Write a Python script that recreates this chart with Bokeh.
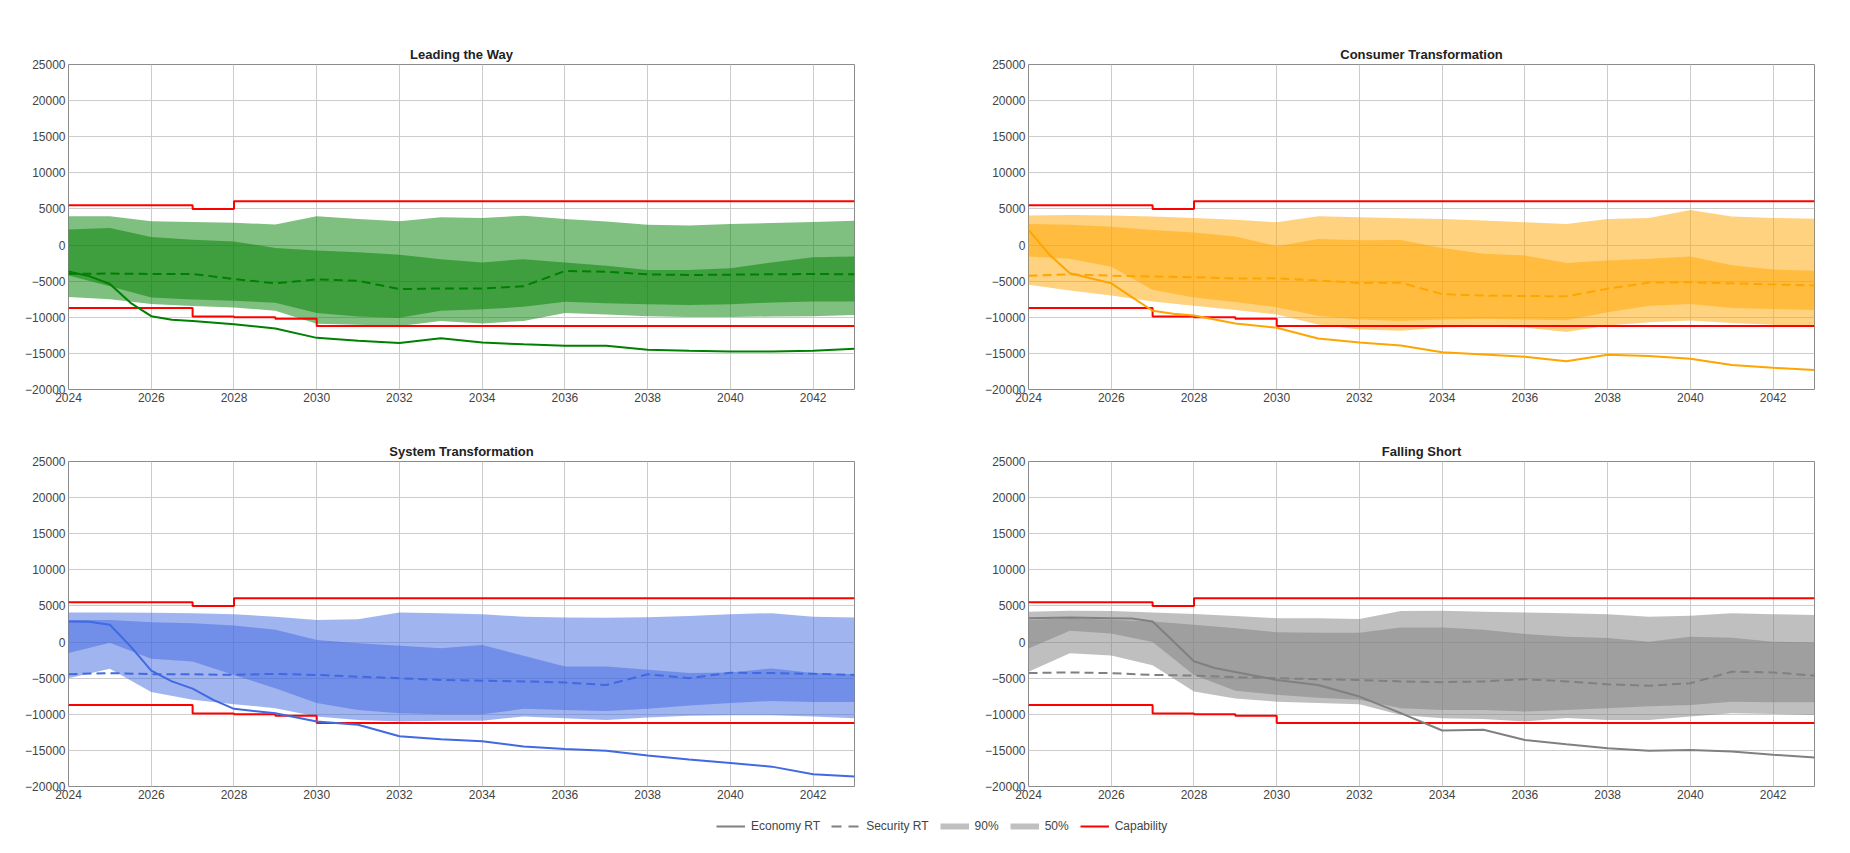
from bokeh.plotting import figure
from bokeh.layouts import column, row
from bokeh.models import Range1d, FixedTicker, Legend, LegendItem
from bokeh.embed import file_html
from bokeh.resources import INLINE

# ---------------- data ----------------
YEARS = list(range(2024, 2044))
X_TICKS = list(range(2024, 2043, 2))
Y_TICKS = list(range(-20000, 25001, 5000))

CAP_UP_X = [2024, 2027, 2028, 2043]
CAP_UP_Y = [5500, 5000, 6050, 6050]
CAP_LO_X = [2024, 2027, 2028, 2029, 2030, 2043]
CAP_LO_Y = [-8700, -9900, -10000, -10200, -11200, -11200]

# Leading the Way
LTW_ECO_X = [2024, 2024.5, 2025, 2025.5, 2026, 2026.5] + list(range(2027, 2044))
LTW_ECO_Y = [-3650, -4300, -5400, -8000, -9850, -10350, -10500, -10950, -11550, -12850,
             -13250, -13550, -12900, -13500, -13750, -13950, -13950, -14500, -14650,
             -14750, -14750, -14650, -14350]
LTW_SEC = [-4000, -3950, -4000, -4000, -4700, -5300, -4750, -4950, -6100, -6000,
           -6000, -5700, -3600, -3700, -4050, -4150, -4100, -4050, -4000, -4050]
LTW_P90_HI = [4000, 4000, 3300, 3200, 3100, 2850, 4000, 3600, 3300, 3850,
              3750, 4050, 3600, 3250, 2800, 2700, 2900, 3050, 3200, 3350]
LTW_P50_HI = [2150, 2350, 1100, 750, 500, -400, -750, -1000, -1350, -1950,
              -2400, -1950, -2400, -2850, -3450, -3450, -3200, -2400, -1700, -1600]
LTW_P50_LO = [-4200, -5700, -7250, -7550, -7700, -8000, -9400, -9900, -10050, -9100,
              -8900, -8550, -7850, -8050, -8200, -8300, -8200, -7950, -7800, -7800]
LTW_P90_LO = [-7200, -7500, -8150, -8450, -8650, -9100, -10900, -11050, -11200, -10500,
              -10850, -10500, -9400, -9600, -9850, -9950, -9950, -9900, -9850, -9700]

# Consumer Transformation
CT_ECO_X = [2024, 2024.5, 2025, 2025.5, 2026, 2026.5, 2027, 2027.5] + list(range(2028, 2044))
CT_ECO_Y = [2100, -1300, -3900, -4600, -5300, -7200, -9100, -9500, -9750, -10850,
            -11450, -12950, -13500, -13900, -14850, -15150, -15450, -16100, -15200,
            -15350, -15750, -16600, -17000, -17300]
CT_SEC = [-4250, -4050, -4250, -4350, -4450, -4650, -4600, -4900, -5250, -5200,
          -6800, -7000, -7050, -7100, -6050, -5200, -5150, -5300, -5450, -5600]
CT_P90_HI = [4100, 4150, 4100, 3950, 3750, 3500, 3150, 4000, 3850, 3700,
             3600, 3400, 3150, 2900, 3600, 3750, 4850, 3950, 3750, 3650]
CT_P50_HI = [2900, 2800, 2550, 2100, 1750, 1200, -150, 850, 650, 700,
             -400, -1200, -1450, -2500, -2150, -1900, -1600, -2800, -3400, -3550]
CT_P50_LO = [-1600, -1900, -3000, -6200, -7250, -7900, -8600, -9800, -10300, -10500,
             -10300, -10200, -10300, -10400, -9300, -8400, -8150, -8700, -8850, -9000]
CT_P90_LO = [-5500, -6300, -7000, -7800, -8400, -9000, -9600, -11000, -11700, -11850,
             -11400, -11300, -11400, -12050, -11150, -10700, -10450, -10800, -11050, -11350]

# System Transformation
ST_ECO_X = [2024, 2024.5, 2025, 2025.5, 2026, 2026.5, 2027, 2027.5] + list(range(2028, 2044))
ST_ECO_Y = [2850, 2800, 2400, -600, -3950, -5450, -6450, -8000, -9250, -9850,
            -11000, -11450, -13050, -13450, -13750, -14450, -14800, -15050, -15700,
            -16250, -16750, -17250, -18300, -18600]
ST_SEC = [-4450, -4300, -4450, -4450, -4550, -4400, -4550, -4800, -5000, -5250,
          -5350, -5450, -5600, -5950, -4450, -5000, -4250, -4300, -4400, -4550]
ST_P90_HI = [4100, 4100, 4050, 4000, 3850, 3500, 3050, 3150, 4100, 4000,
             3850, 3500, 3400, 3350, 3450, 3600, 3850, 4000, 3500, 3400]
ST_P50_HI = [3050, 3050, 2750, 2600, 2300, 1700, 300, -150, -500, -850,
             -400, -1900, -3400, -3400, -3850, -4300, -4200, -3650, -4300, -4450]
ST_P50_LO = [-1500, -100, -2300, -2700, -4550, -6400, -8450, -9400, -9850, -10000,
             -10000, -9250, -9400, -9550, -9250, -8800, -8450, -8150, -8300, -8300]
ST_P90_LO = [-5000, -3700, -6900, -8000, -8600, -9150, -10300, -10800, -11000, -10900,
             -10900, -10300, -10550, -10800, -10450, -10200, -10150, -10150, -10300, -10550]

# Falling Short
FS_ECO_X = [2024, 2025, 2026, 2026.5, 2027, 2027.5, 2028, 2028.5] + list(range(2029, 2044))
FS_ECO_Y = [3300, 3400, 3300, 3250, 2850, 100, -2650, -3600, -4150, -5250, -5950,
            -7550, -9850, -12250, -12150, -13550, -14150, -14700, -15050, -14950,
            -15150, -15600, -16000]
FS_SEC = [-4300, -4200, -4300, -4550, -4650, -4850, -5000, -5150, -5250, -5450,
          -5550, -5450, -5150, -5450, -5850, -6050, -5700, -4100, -4200, -4650]
FS_P90_HI = [4200, 4350, 4300, 4100, 3900, 3600, 3300, 3300, 3200, 4300,
             4350, 4200, 4100, 4000, 3850, 3500, 3650, 4000, 3850, 3750]
FS_P50_HI = [3050, 3300, 3100, 2850, 2400, 1900, 1350, 1300, 1300, 2000,
             2000, 1700, 1100, 750, 550, 50, 750, 600, 50, -50]
FS_P50_LO = [-900, 1550, 1200, 0, -4550, -6750, -7300, -7700, -8000, -9150,
             -9400, -9400, -9600, -9400, -9150, -8900, -8700, -8250, -8350, -8350]
FS_P90_LO = [-4100, -1550, -1850, -3200, -6850, -7800, -8250, -8450, -8600, -10100,
             -10550, -10650, -11000, -10500, -10800, -10800, -10300, -9850, -9950, -10100]

TITLES = ["Leading the Way", "Consumer Transformation", "System Transformation", "Falling Short"]
COLORS = ["#008000", "#FFA500", "#4169E1", "#808080"]
LEGEND_LABELS = ["Economy RT", "Security RT", "90%", "50%", "Capability"]

FONT = "Liberation Sans"
TEXT_COLOR = "#444444"


def make_panel(title, color, eco_x, eco_y, sec, p90lo, p90hi, p50lo, p50hi,
               left, right, top, bottom):
    p = figure(frame_width=786, frame_height=325,
               min_border_left=left, min_border_right=right,
               min_border_top=top, min_border_bottom=bottom,
               x_range=Range1d(2024, 2043), y_range=Range1d(-20000, 25000),
               output_backend="svg", toolbar_location=None, title=title)
    p.title.align = "center"
    p.title.text_font = FONT
    p.title.text_font_size = "13px"
    p.title.text_font_style = "bold"
    p.title.text_color = "#222222"
    p.title.standoff = 6

    p.xaxis.ticker = FixedTicker(ticks=X_TICKS)
    p.yaxis.ticker = FixedTicker(ticks=Y_TICKS)
    p.yaxis.major_label_overrides = {t: (str(t) if t >= 0 else "\u2212" + str(-t)) for t in Y_TICKS}
    for ax in (p.xaxis, p.yaxis):
        ax.axis_line_color = None
        ax.major_tick_line_color = None
        ax.minor_tick_line_color = None
        ax.major_tick_out = 0
        ax.major_tick_in = 0
        ax.major_label_text_font = FONT
        ax.major_label_text_font_size = "12px"
        ax.major_label_text_color = TEXT_COLOR
    p.xaxis.major_label_standoff = 3
    p.yaxis.major_label_standoff = 3

    p.grid.grid_line_color = "#cccccc"
    p.grid.grid_line_width = 1
    p.outline_line_color = "#8c8c8c"
    p.outline_line_width = 1
    p.background_fill_color = "white"
    p.border_fill_color = "white"

    p.varea(x=YEARS, y1=p90lo, y2=p90hi, fill_color=color, fill_alpha=0.5)
    p.varea(x=YEARS, y1=p50lo, y2=p50hi, fill_color=color, fill_alpha=0.5)

    p.step(x=CAP_UP_X, y=CAP_UP_Y, mode="after", line_color="red", line_width=2)
    p.step(x=CAP_LO_X, y=CAP_LO_Y, mode="after", line_color="red", line_width=2)

    p.line(x=YEARS, y=sec, line_color=color, line_width=2, line_dash="9 5")
    p.line(x=eco_x, y=eco_y, line_color=color, line_width=2)
    return p


p1 = make_panel(TITLES[0], COLORS[0], LTW_ECO_X, LTW_ECO_Y, LTW_SEC,
                LTW_P90_LO, LTW_P90_HI, LTW_P50_LO, LTW_P50_HI, 68, 114, 64, 20)
p2 = make_panel(TITLES[1], COLORS[1], CT_ECO_X, CT_ECO_Y, CT_SEC,
                CT_P90_LO, CT_P90_HI, CT_P50_LO, CT_P50_HI, 60, 21, 64, 20)
p3 = make_panel(TITLES[2], COLORS[2], ST_ECO_X, ST_ECO_Y, ST_SEC,
                ST_P90_LO, ST_P90_HI, ST_P50_LO, ST_P50_HI, 68, 114, 52, 20)
p4 = make_panel(TITLES[3], COLORS[3], FS_ECO_X, FS_ECO_Y, FS_SEC,
                FS_P90_LO, FS_P90_HI, FS_P50_LO, FS_P50_HI, 60, 21, 52, 20)

# ---------------- legend ----------------
leg = figure(width=1835, height=40, min_border=0, x_axis_type=None, y_axis_type=None,
             output_backend="svg", toolbar_location=None,
             x_range=Range1d(0, 1), y_range=Range1d(0, 1))
leg.grid.visible = False
leg.outline_line_color = None
OFF_X = [-10, -9]
OFF_Y = [-10, -10]
r1 = leg.line(OFF_X, OFF_Y, line_color="#808080", line_width=2)
r2 = leg.line(OFF_X, OFF_Y, line_color="#808080", line_width=2, line_dash="10 7")
r3 = leg.line(OFF_X, OFF_Y, line_color="#c0c0c0", line_width=6)
r4 = leg.line(OFF_X, OFF_Y, line_color="#c0c0c0", line_width=6)
r5 = leg.line(OFF_X, OFF_Y, line_color="red", line_width=2)
legend = Legend(items=[LegendItem(label=lab, renderers=[r])
                       for lab, r in zip(LEGEND_LABELS, [r1, r2, r3, r4, r5])],
                orientation="horizontal", location=(716, 13),
                glyph_width=29, glyph_height=12, label_height=12, label_standoff=6,
                spacing=11, padding=0, margin=0,
                border_line_color=None, background_fill_alpha=0,
                label_text_font=FONT, label_text_font_size="12px",
                label_text_color=TEXT_COLOR, label_text_baseline="middle")
leg.add_layout(legend)

layout = column(row(p1, p2), row(p3, p4), leg)

open("out.html", "w").write(file_html(layout, INLINE))
